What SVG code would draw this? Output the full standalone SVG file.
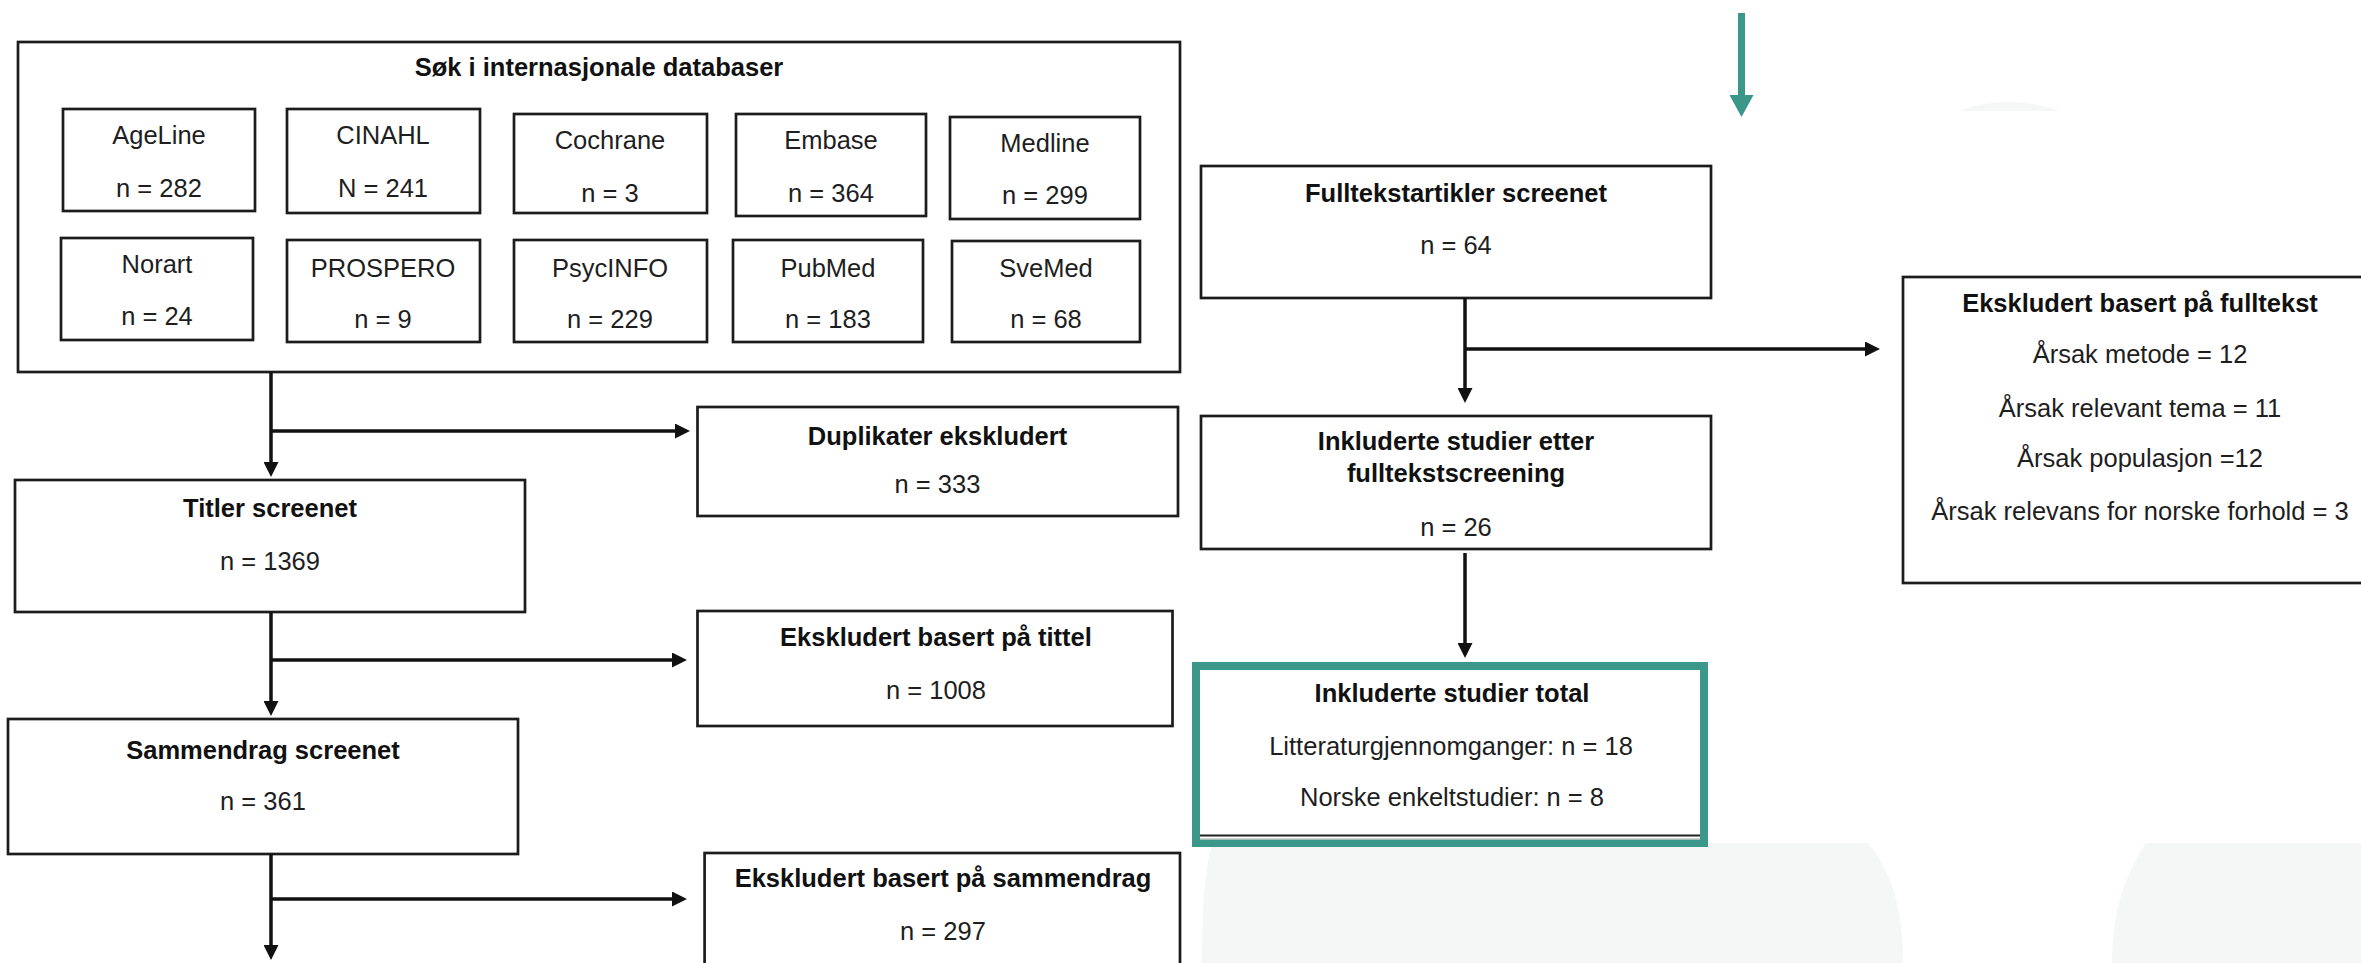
<svg xmlns="http://www.w3.org/2000/svg" width="2361" height="963" viewBox="0 0 2361 963">
<style>
.box{fill:#fff;stroke:#1c1c1c;stroke-width:2.7}
.t{font-family:"Liberation Sans",Arial,sans-serif;font-size:25.5px;fill:#1e1e1e;text-anchor:middle}
.b{font-weight:bold;fill:#111}
.con{stroke:#111;stroke-width:3.5;fill:none}
.bg{fill:#f5f7f6}
</style>
<defs>
<marker id="ah" viewBox="0 0 15 15" refX="0" refY="7.5" markerWidth="15" markerHeight="15" markerUnits="userSpaceOnUse" orient="auto"><path d="M0,0 L15,7.5 L0,15 Z" fill="#111"/></marker>
<marker id="ahT" viewBox="0 0 22 24" refX="0" refY="12" markerWidth="22" markerHeight="24" markerUnits="userSpaceOnUse" orient="auto"><path d="M0,0 L22,12 L0,24 Z" fill="#3b9789"/></marker>
</defs>
<rect x="0" y="0" width="2361" height="963" fill="#fff"/>
<g id="background">
<path class="bg" d="M1958,111 Q2009,93 2060,111 Z"/>
<path class="bg" d="M1212,843 L1868,843 C1890,870 1903,905 1903,963 L1202,963 C1202,905 1205,870 1212,843 Z"/>
<path class="bg" d="M2146,843 L2361,843 L2361,963 L2112,963 C2112,910 2125,875 2146,843 Z"/>
</g>
<g id="databaser">
<rect class="box" x="18" y="42" width="1162" height="330"/>
<text class="t b" x="599" y="76">Søk i internasjonale databaser</text>
</g>
<g id="ageline"><rect class="box" x="63" y="109" width="192" height="102"/><text class="t" x="159" y="144">AgeLine</text><text class="t" x="159" y="197">n = 282</text></g>
<g id="cinahl"><rect class="box" x="287" y="109" width="193" height="104"/><text class="t" x="383" y="144">CINAHL</text><text class="t" x="383" y="197">N = 241</text></g>
<g id="cochrane"><rect class="box" x="514" y="114" width="193" height="99"/><text class="t" x="610" y="149">Cochrane</text><text class="t" x="610" y="202">n = 3</text></g>
<g id="embase"><rect class="box" x="736" y="114" width="190" height="102"/><text class="t" x="831" y="149">Embase</text><text class="t" x="831" y="202">n = 364</text></g>
<g id="medline"><rect class="box" x="950" y="117" width="190" height="102"/><text class="t" x="1045" y="152">Medline</text><text class="t" x="1045" y="204">n = 299</text></g>
<g id="norart"><rect class="box" x="61" y="238" width="192" height="102"/><text class="t" x="157" y="273">Norart</text><text class="t" x="157" y="325">n = 24</text></g>
<g id="prospero"><rect class="box" x="287" y="240" width="193" height="102"/><text class="t" x="383" y="277">PROSPERO</text><text class="t" x="383" y="328">n = 9</text></g>
<g id="psycinfo"><rect class="box" x="514" y="240" width="193" height="102"/><text class="t" x="610" y="277">PsycINFO</text><text class="t" x="610" y="328">n = 229</text></g>
<g id="pubmed"><rect class="box" x="733" y="240" width="190" height="102"/><text class="t" x="828" y="277">PubMed</text><text class="t" x="828" y="328">n = 183</text></g>
<g id="svemed"><rect class="box" x="952" y="241" width="188" height="101"/><text class="t" x="1046" y="277">SveMed</text><text class="t" x="1046" y="328">n = 68</text></g>
<g id="titler"><rect class="box" x="15" y="480" width="510" height="132"/><text class="t b" x="270" y="517">Titler screenet</text><text class="t" x="270" y="570">n = 1369</text></g>
<g id="sammendrag"><rect class="box" x="8" y="719" width="510" height="135"/><text class="t b" x="263" y="759">Sammendrag screenet</text><text class="t" x="263" y="810">n = 361</text></g>
<g id="duplikater"><rect class="box" x="697.5" y="407" width="480.5" height="109"/><text class="t b" x="937.5" y="445">Duplikater ekskludert</text><text class="t" x="937.5" y="493">n = 333</text></g>
<g id="ekskl-tittel"><rect class="box" x="697.5" y="611" width="475" height="115"/><text class="t b" x="936" y="646">Ekskludert basert på tittel</text><text class="t" x="936" y="699">n = 1008</text></g>
<g id="ekskl-sammendrag"><rect class="box" x="704.6" y="853" width="475.4" height="140"/><text class="t b" x="943" y="887">Ekskludert basert på sammendrag</text><text class="t" x="943" y="939.5">n = 297</text></g>
<g id="fulltekst"><rect class="box" x="1201" y="166" width="510" height="132"/><text class="t b" x="1456" y="202">Fulltekstartikler screenet</text><text class="t" x="1456" y="254">n = 64</text></g>
<g id="inkl-etter"><rect class="box" x="1201" y="416" width="510" height="133"/><text class="t b" x="1456" y="450">Inkluderte studier etter</text><text class="t b" x="1456" y="482">fulltekstscreening</text><text class="t" x="1456" y="536">n = 26</text></g>
<g id="ekskl-fulltekst"><rect class="box" x="1903" y="277" width="480" height="306"/><text class="t b" x="2140" y="312">Ekskludert basert på fulltekst</text><text class="t" x="2140" y="363">Årsak metode = 12</text><text class="t" x="2140" y="417">Årsak relevant tema = 11</text><text class="t" x="2140" y="467">Årsak populasjon =12</text><text class="t" x="2140" y="520">Årsak relevans for norske forhold = 3</text></g>
<g id="inkl-total"><rect x="1196" y="666" width="508" height="177" fill="#fff" stroke="#3b9789" stroke-width="8"/><line x1="1200" y1="835.5" x2="1700" y2="835.5" stroke="#222" stroke-width="2"/><line x1="1200" y1="839" x2="1700" y2="839" stroke="#c8c8c8" stroke-width="1.5"/><text class="t b" x="1452" y="702">Inkluderte studier total</text><text class="t" x="1451" y="755">Litteraturgjennomganger: n = 18</text><text class="t" x="1452" y="806">Norske enkeltstudier: n = 8</text></g>
<g id="connectors">
<line class="con" x1="271" y1="372" x2="271" y2="462" marker-end="url(#ah)"/>
<line class="con" x1="271" y1="431" x2="675" y2="431" marker-end="url(#ah)"/>
<line class="con" x1="271" y1="612" x2="271" y2="701" marker-end="url(#ah)"/>
<line class="con" x1="271" y1="660" x2="672" y2="660" marker-end="url(#ah)"/>
<line class="con" x1="271" y1="854" x2="271" y2="945" marker-end="url(#ah)"/>
<line class="con" x1="271" y1="899" x2="672" y2="899" marker-end="url(#ah)"/>
<line class="con" x1="1465" y1="298" x2="1465" y2="388" marker-end="url(#ah)"/>
<line class="con" x1="1465" y1="349" x2="1865" y2="349" marker-end="url(#ah)"/>
<line class="con" x1="1465" y1="553" x2="1465" y2="643" marker-end="url(#ah)"/>
<line x1="1741.5" y1="13" x2="1741.5" y2="95" stroke="#3b9789" stroke-width="7" marker-end="url(#ahT)"/>
</g>
</svg>
